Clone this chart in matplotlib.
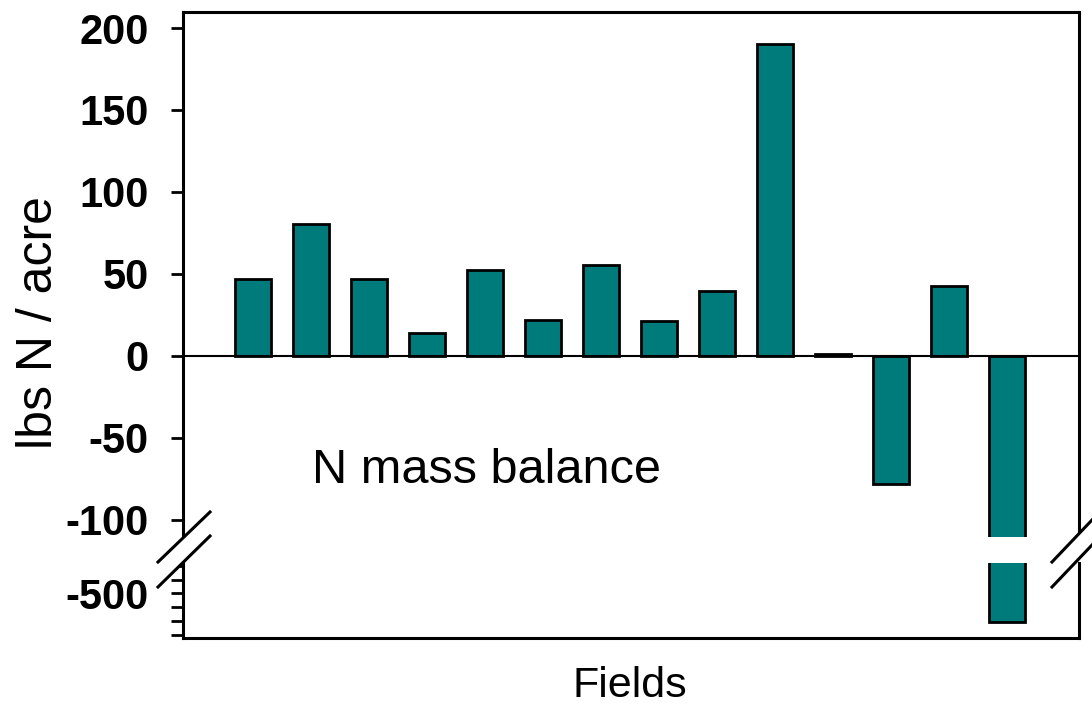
import matplotlib
matplotlib.use("Agg")
import matplotlib.pyplot as plt
from matplotlib.patches import Polygon
from matplotlib.lines import Line2D

plt.rcParams['font.family'] = ['Liberation Sans', 'DejaVu Sans']
plt.rcParams['axes.unicode_minus'] = False

# ---- data ----
fields = list(range(1, 15))
n_balance = [46.6, 80.3, 46.6, 14.2, 52.2, 21.8, 55.3, 21.2, 39.5, 190.0, 1.0, -78.0, 42.7, -605.0]
upper_ticks = [-100, -50, 0, 50, 100, 150, 200]
upper_labels = ['-100', '-50', '0', '50', '100', '150', '200']
lower_ticks = [-400, -450, -500, -550, -600, -650]
lower_labels = ['', '', '-500', '', '', '']
ylabel = 'lbs N / acre'
xlabel = 'Fields'
annotation = 'N mass balance'

W, H = 1092, 708
BAR_COLOR = '#007B7B'

fig = plt.figure(figsize=(W / 100, H / 100), dpi=100)

def fx(x):
    return x / W

def fy(y):
    return 1 - y / H

left, right = 183, 1079
up_top, up_bot = 12, 537
lo_top, lo_bot = 563, 638

ax_up = fig.add_axes([fx(left), fy(up_bot), fx(right) - fx(left), fy(up_top) - fy(up_bot)])
ax_lo = fig.add_axes([fx(left), fy(lo_bot), fx(right) - fx(left), fy(lo_top) - fy(lo_bot)])

pos = list(range(len(fields)))
for ax in (ax_up, ax_lo):
    ax.bar(pos, n_balance, width=0.61, color=BAR_COLOR, edgecolor='black', linewidth=2.0, zorder=3)
    ax.set_xlim(-1.207, 14.24)
    ax.set_xticks([])
    for s in ax.spines.values():
        s.set_linewidth(2.2)
    ax.tick_params(axis='y', direction='out', length=8.5, width=2.0, pad=16,
                   labelsize=30)

ax_up.set_ylim(-110.6, 209.8)
ax_up.set_yticks(upper_ticks)
ax_up.set_yticklabels(upper_labels, fontweight='bold', fontsize=30)
ax_up.spines['bottom'].set_visible(False)
ax_up.axhline(0, color='black', linewidth=1.5, zorder=4)
ax_up.text(1.01, -77.7, annotation, fontsize=35, ha='left', va='baseline')

ax_lo.set_ylim(-662, -390)
ax_lo.set_yticks(lower_ticks)
ax_lo.set_yticklabels(lower_labels, fontweight='bold', fontsize=30)
ax_lo.spines['top'].set_visible(False)

# axis break marks
for (x0, y0, x1, y1, x2, y2, x3, y3) in [
    (158, 562, 210, 512, 210, 536, 158, 587),
    (1052, 562, 1092, 520, 1092, 545, 1052, 587),
]:
    poly = Polygon([(fx(x0), fy(y0)), (fx(x1), fy(y1)), (fx(x2), fy(y2)), (fx(x3), fy(y3))],
                   closed=True, facecolor='white', edgecolor='none',
                   transform=fig.transFigure, zorder=5)
    fig.add_artist(poly)
    fig.add_artist(Line2D([fx(x0), fx(x1)], [fy(y0), fy(y1)], color='black', lw=2.2,
                          transform=fig.transFigure, zorder=6))
    fig.add_artist(Line2D([fx(x3), fx(x2)], [fy(y3), fy(y2)], color='black', lw=2.2,
                          transform=fig.transFigure, zorder=6))

fig.text(fx(52), fy(323), ylabel, fontsize=36, rotation=90, rotation_mode='anchor',
         ha='center', va='baseline')
fig.text(fx(630), fy(697), xlabel, fontsize=31, ha='center', va='baseline')

fig.savefig('out.png', dpi=100)
